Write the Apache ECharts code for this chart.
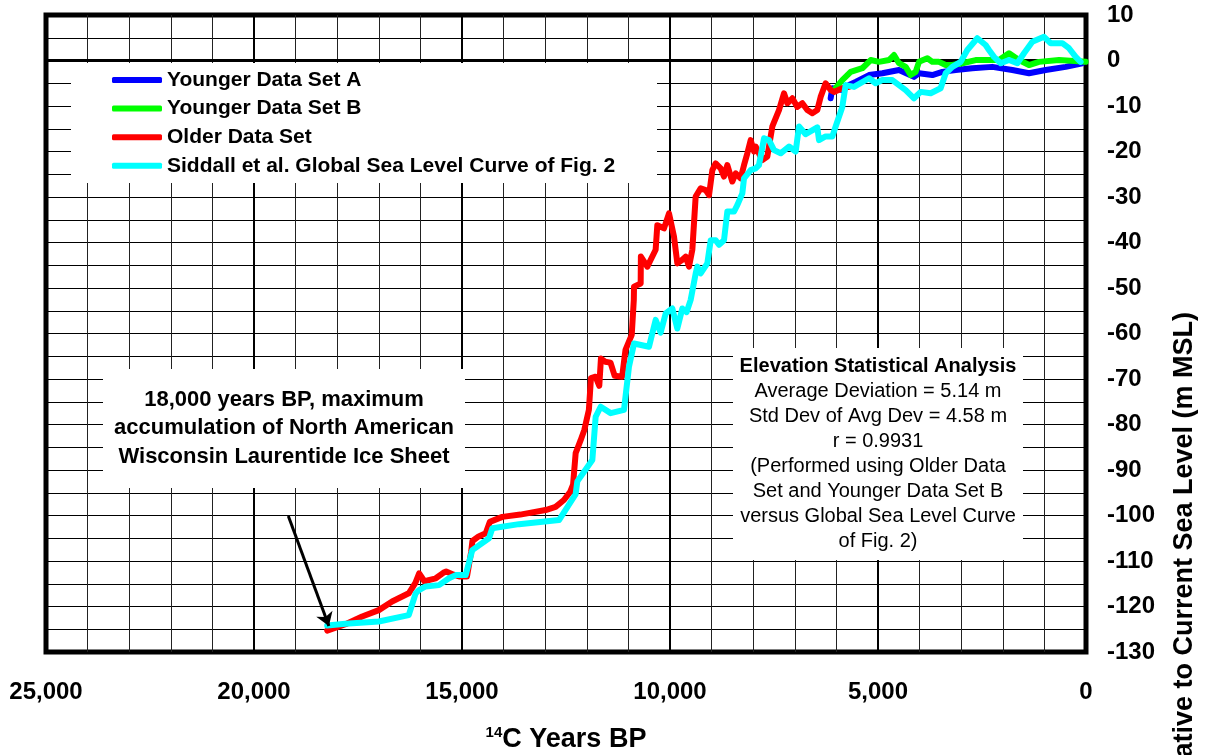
<!DOCTYPE html>
<html>
<head>
<meta charset="utf-8">
<script src="https://cdn.jsdelivr.net/npm/echarts@6/dist/echarts.min.js"></script>
<style>
  html, body { margin: 0; padding: 0; background: #fff; }
  #chart { width: 1210px; height: 755px; }
</style>
</head>
<body>
<div id="chart"></div>
<script>
// ---------- DATA (years BP, metres relative to current MSL) ----------
const olderYears = [18240,17800,17400,17000,16680,16280,16120,16030,15900,15800,15630,15450,15380,15200,15070,14880,14780,14750,14600,14430,14330,14030,13600,12990,12750,12550,12400,12330,12268,12150,12060,11950,11900,11790,11700,11660,11560,11430,11330,11150,11070,10920,10870,10865,10705,10700,10545,10345,10305,10144,10024,9904,9824,9704,9623,9543,9463,9383,9263,9142,9062,8982,8902,8782,8702,8622,8502,8421,8301,8221,8141,8061,7981,7941,7861,7781,7660,7540,7380,7260,7180,7059,6939,6819,6699,6579,6459,6379,6259,6138,6058,5858,5697];
const olderLevels = [-125.3,-123.9,-122.2,-120.8,-118.9,-117.1,-114.8,-112.7,-114.5,-114.2,-113.8,-112.6,-112.3,-113.0,-113.4,-113.4,-108.0,-105.6,-104.6,-103.9,-101.4,-100.3,-99.8,-98.8,-98.1,-96.6,-94.8,-93.2,-86.3,-83.5,-81.2,-76.8,-69.8,-69.5,-71.5,-65.5,-66.2,-66.4,-69.3,-69.5,-63.6,-60.3,-52.6,-49.7,-49.0,-43.1,-45.3,-41.6,-36.2,-36.9,-33.6,-38.7,-44.6,-43.8,-43.1,-45.3,-41.6,-29.9,-28.1,-28.5,-29.6,-24.1,-22.6,-23.7,-25.5,-23.0,-26.6,-24.8,-25.9,-23.0,-20.4,-17.5,-20.0,-18.9,-20.4,-21.9,-21.1,-14.5,-10.9,-7.2,-9.4,-8.3,-10.2,-9.4,-10.9,-11.6,-10.9,-8.0,-5.0,-6.5,-6.9,-6.1,-5.8];

const siddallYears = [18240,17800,17000,16280,16114,16034,15873,15553,15312,15152,14912,14752,14351,14271,13630,12668,12268,12228,11867,11787,11667,11426,11106,10986,10865,10505,10345,10224,10104,9944,9824,9784,9704,9600,9503,9383,9343,9263,9103,9022,8902,8822,8702,8622,8462,8382,8261,8221,8061,7941,7861,7740,7620,7500,7340,7139,6979,6899,6739,6459,6418,6259,6098,6018,5858,5777,5577,5216,5056,4896,4656,4335,4135,3974,3734,3494,3373,3213,3013,2853,2613,2413,2332,2212,2051,1851,1651,1490,1290,1010,849,570,409,248,130];
const siddallLevels = [-124.2,-123.8,-123.3,-121.9,-117.1,-116.4,-115.6,-115.3,-113.8,-113.1,-113.1,-107.6,-105.0,-102.8,-101.9,-101.0,-95.3,-92.5,-87.8,-78.3,-76.1,-77.5,-76.8,-67.3,-62.2,-62.9,-57.0,-59.8,-55.6,-54.5,-58.9,-59.2,-54.5,-55.3,-52.6,-46.8,-45.3,-46.8,-44.6,-39.5,-39.5,-40.5,-39.5,-33.2,-33.2,-31.8,-29.2,-25.9,-24.1,-23.7,-23.0,-17.1,-17.5,-19.7,-20.4,-18.9,-20.0,-14.5,-16.2,-14.7,-17.5,-16.7,-16.7,-14.5,-10.2,-5.4,-5.8,-3.9,-5.0,-4.3,-4.3,-6.5,-8.3,-6.9,-7.2,-6.1,-2.8,-1.4,-0.3,2.3,4.9,3.4,2.3,0.8,-0.6,0.1,-0.6,1.6,4.1,5.2,3.8,3.8,2.7,0.8,-0.3];

const youngerBYears = [6060,6018,5858,5657,5377,5176,4976,4736,4615,4495,4335,4215,4095,4014,3814,3694,3534,3373,3213,2973,2652,2413,2091,1851,1611,1370,1130,649,8];
const youngerBLevels = [-6.5,-6.1,-4.3,-2.5,-1.7,0.1,-0.3,0.1,1.2,-0.6,-1.4,-3.2,-2.5,-0.3,0.5,-0.3,-0.3,-1.0,-1.0,-0.6,0.1,0.1,0.1,1.6,0.1,-1.0,-0.3,0.1,-0.3];

const youngerAYears = [6138,6098,5858,5697,5537,5216,4896,4495,4135,4014,3694,3454,3133,2733,2252,1771,1370,970,489,89];
const youngerALevels = [-8.3,-6.1,-6.5,-5.4,-4.7,-3.2,-2.8,-2.1,-3.6,-2.8,-3.2,-2.5,-2.1,-1.7,-1.4,-2.1,-2.8,-2.1,-1.4,-0.6];

const seriesNames = ['Younger Data Set A','Younger Data Set B','Older Data Set','Siddall et al. Global Sea Level Curve of Fig. 2'];
const xTicks = [0, 5000, 10000, 15000, 20000, 25000];
const yTicks = [10,0,-10,-20,-30,-40,-50,-60,-70,-80,-90,-100,-110,-120,-130];

// annotation arrow (data coordinates): tail and head
const arrowTail = [19175, -100.1];
const arrowHead = [18200, -124.3];

const noteLeft = ['18,000 years BP, maximum','accumulation of North American','Wisconsin Laurentide Ice Sheet'];
const statsTitle = 'Elevation Statistical Analysis';
const statsLines = ['Average Deviation = 5.14 m','Std Dev of Avg Dev = 4.58 m','r = 0.9931','(Performed using Older Data','Set and Younger Data Set B','versus Global Sea Level Curve','of Fig. 2)'];
const yTitle = 'Elevation Relative to Current Sea Level (m MSL)';

// ---------- BUILD ----------
const zip = (xs, ys) => xs.map((x, i) => [x, ys[i]]);
const FONT = '"Liberation Sans", Arial, Helvetica, sans-serif';

function lineSeries(name, color, xs, ys, extra) {
  return Object.assign({
    name: name, type: 'line', data: zip(xs, ys),
    showSymbol: false, symbol: 'none', silent: true,
    lineStyle: { color: color, width: 6, join: 'round', cap: 'round' },
    itemStyle: { color: color },
    emphasis: { disabled: true },
    animation: false
  }, extra || {});
}

const chart = echarts.init(document.getElementById('chart'), null, { renderer: 'canvas' });
const option = {
  animation: false,
  backgroundColor: '#ffffff',
  grid: { left: 46, right: 124, top: 15, bottom: 103, show: true, borderColor: '#000', borderWidth: 5,
          backgroundColor: 'transparent', containLabel: false, outerBoundsMode: 'none' },
  legend: {
    data: seriesNames, orient: 'vertical', left: 71, top: 63,
    padding: [6, 10, 6, 41], itemGap: 6.6, itemWidth: 50, itemHeight: 6,
    icon: 'roundRect', selectedMode: false, z: 5,
    textStyle: { fontFamily: FONT, fontSize: 21, fontWeight: 'bold', color: '#000', lineHeight: 22 }
  },
  xAxis: {
    type: 'value', min: 0, max: 25000, interval: 5000, inverse: true,
    axisLine: { show: false }, axisTick: { show: false },
    axisLabel: {
      fontFamily: FONT, fontSize: 24, fontWeight: 'bold', color: '#000', margin: 28,
      formatter: v => xTicks.indexOf(v) >= 0 ? v.toLocaleString('en-US') : ''
    },
    splitLine: { show: true, lineStyle: { color: '#000', width: 2 } },
    minorTick: { show: false, splitNumber: 5 },
    minorSplitLine: { show: true, lineStyle: { color: '#222', width: 1 } },
    name: '{s|14}{m|C Years BP}', nameLocation: 'middle', nameGap: 73,
    nameTextStyle: {
      color: '#000', fontFamily: FONT,
      rich: {
        s: { fontFamily: FONT, fontSize: 15, fontWeight: 'bold', color: '#000', verticalAlign: 'top', lineHeight: 16 },
        m: { fontFamily: FONT, fontSize: 27, fontWeight: 'bold', color: '#000', lineHeight: 30 }
      }
    }
  },
  yAxis: {
    type: 'value', position: 'right', min: -130, max: 10, interval: 10,
    axisLine: { show: false }, axisTick: { show: false },
    axisLabel: {
      fontFamily: FONT, fontSize: 24, fontWeight: 'bold', color: '#000', margin: 21, align: 'left',
      formatter: v => yTicks.indexOf(v) >= 0 ? String(v) : ''
    },
    splitLine: { show: true, lineStyle: { color: '#000', width: 1 } },
    minorTick: { show: false, splitNumber: 2 },
    minorSplitLine: { show: true, lineStyle: { color: '#000', width: 1 } }
  },
  series: [
    lineSeries(seriesNames[0], '#0000ff', youngerAYears, youngerALevels, {
      markLine: {
        silent: true, z: 1, symbol: ['none', 'none'], animation: false,
        label: { show: false },
        lineStyle: { color: '#000', width: 3, type: 'solid' },
        emphasis: { disabled: true },
        data: [{ yAxis: 0 }]
      }
    }),
    lineSeries(seriesNames[1], '#00ff00', youngerBYears, youngerBLevels),
    lineSeries(seriesNames[2], '#ff0000', olderYears, olderLevels),
    lineSeries(seriesNames[3], '#00ffff', siddallYears, siddallLevels, {
      markLine: {
        silent: true, z: 6, symbol: ['none', 'arrow'], symbolSize: 13, animation: false,
        label: { show: false },
        lineStyle: { color: '#000', width: 3, type: 'solid' },
        emphasis: { disabled: true },
        data: [[{ coord: arrowTail }, { coord: arrowHead }]]
      }
    })
  ],
  graphic: [
    { type: 'rect', z: 3, silent: true, shape: { x: 71, y: 63, width: 586, height: 120 }, style: { fill: '#fff' } },
    { type: 'rect', z: 3, silent: true, shape: { x: 103, y: 369, width: 362, height: 119 }, style: { fill: '#fff' } },
    { type: 'text', z: 4, silent: true, x: 284, y: 428,
      style: { text: noteLeft.join('\n'), font: 'bold 22px ' + FONT, fill: '#000',
               align: 'center', verticalAlign: 'middle', textAlign: 'center', textVerticalAlign: 'middle', lineHeight: 28.5 } },
    { type: 'rect', z: 3, silent: true, shape: { x: 733, y: 348, width: 290, height: 212 }, style: { fill: '#fff' } },
    { type: 'text', z: 4, silent: true, x: 878, y: 454,
      style: {
        text: '{b|' + statsTitle + '}\n' + statsLines.map(s => '{n|' + s + '}').join('\n'),
        align: 'center', verticalAlign: 'middle', textAlign: 'center', textVerticalAlign: 'middle',
        rich: {
          b: { fontFamily: FONT, fontSize: 20, fontWeight: 'bold', fill: '#000', color: '#000', lineHeight: 25, align: 'center' },
          n: { fontFamily: FONT, fontSize: 20, fontWeight: 'normal', fill: '#000', color: '#000', lineHeight: 25, align: 'center' }
        }
      } },
    { type: 'text', z: 4, silent: true, x: 1185, y: 312, rotation: Math.PI / 2,
      style: { text: yTitle, font: 'bold 27px ' + FONT, fill: '#000',
               align: 'right', verticalAlign: 'middle', textAlign: 'right', textVerticalAlign: 'middle' } }
  ]
};
chart.setOption(option);
</script>
</body>
</html>
